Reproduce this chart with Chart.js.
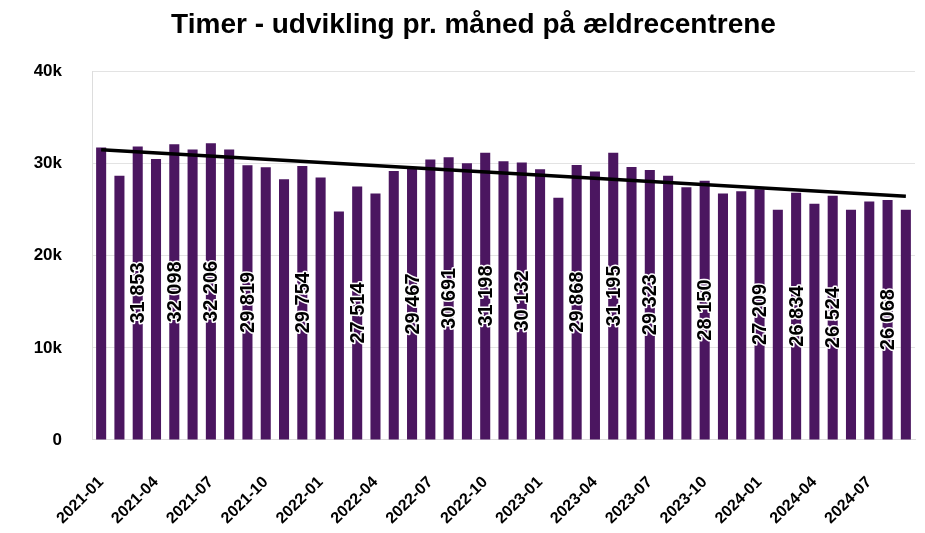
<!DOCTYPE html>
<html>
<head>
<meta charset="utf-8">
<script src="https://cdn.jsdelivr.net/npm/chart.js@4/dist/chart.umd.min.js"></script>
<style>
  html, body { margin: 0; padding: 0; background: #fff; }
  #wrap { width: 925px; height: 533px; }
</style>
</head>
<body>
<div id="wrap"><canvas id="chart-timer"></canvas></div>
<script>
var months = [
  '2021-01','2021-02','2021-03','2021-04','2021-05','2021-06','2021-07','2021-08','2021-09','2021-10','2021-11','2021-12',
  '2022-01','2022-02','2022-03','2022-04','2022-05','2022-06','2022-07','2022-08','2022-09','2022-10','2022-11','2022-12',
  '2023-01','2023-02','2023-03','2023-04','2023-05','2023-06','2023-07','2023-08','2023-09','2023-10','2023-11','2023-12',
  '2024-01','2024-02','2024-03','2024-04','2024-05','2024-06','2024-07','2024-08','2024-09'
];

// hours per month (labelled ones are exact, the rest)
var timer = [
  31750, 28700, 31853, 30500, 32098, 31550, 32206, 31550, 29819, 29600, 28300, 29754,
  28500, 24800, 27514, 26750, 29200, 29467, 30450, 30691, 30050, 31198, 30250, 30132,
  29400, 26300, 29868, 29150, 31195, 29650, 29323, 28700, 27450, 28150, 26750, 27000,
  27209, 25000, 26834, 25650, 26524, 25000, 25900, 26068, 25000
];

// which bars carry a value label
var labelledBars = [2, 4, 6, 8, 11, 14, 17, 19, 21, 23, 26, 28, 30, 33, 36, 38, 40, 43];

// trend line, start and end
var trendStart = 31500;
var trendEnd = 26450;

var trend = months.map(function(m, i) {
  if (i === 0) return trendStart;
  if (i === months.length - 1) return trendEnd;
  return null;
});

var FONT = '"Liberation Sans", Arial, sans-serif';

function fmt(v) {
  return String(v).replace(/\B(?=(\d{3})+(?!\d))/g, ' ');
}

// draws the rotated value labels in the middle of the bars
var barLabels = {
  id: 'barLabels',
  afterDatasetsDraw: function(chart) {
    var ctx = chart.ctx;
    var meta = chart.getDatasetMeta(1);
    ctx.save();
    ctx.font = 'bold 20px ' + FONT;
    ctx.textAlign = 'center';
    ctx.textBaseline = 'middle';
    ctx.lineJoin = 'round';
    labelledBars.forEach(function(i) {
      var bar = meta.data[i];
      var cy = (bar.y + bar.base) / 2;
      ctx.save();
      ctx.translate(bar.x, cy);
      ctx.rotate(-Math.PI / 2);
      ctx.lineWidth = 3;
      ctx.strokeStyle = '#ffffff';
      ctx.strokeText(fmt(timer[i]), 0, 1);
      ctx.fillStyle = '#000000';
      ctx.fillText(fmt(timer[i]), 0, 1);
      ctx.restore();
    });
    ctx.restore();
  }
};

var chart;

function initChart() {
  var ctx = document.getElementById('chart-timer').getContext('2d');
  chart = new Chart(ctx, {
    type: 'bar',
    data: {
      labels: months,
      datasets: [{
        type: 'line',
        label: 'Trend',
        data: trend,
        borderColor: '#000000',
        borderWidth: 3.5,
        pointRadius: 0,
        spanGaps: true,
        order: 0
      },
      {
        label: 'Timer',
        data: timer,
        backgroundColor: '#4b1660',
        borderWidth: 0,
        categoryPercentage: 1,
        barPercentage: 0.55,
        order: 1
      }]
    },
    options: {
      responsive: true,
      maintainAspectRatio: false,
      animation: false,
      layout: { padding: { left: 32, right: 10, top: 6, bottom: 3 } },
      plugins: {
        legend: { display: false },
        tooltip: { enabled: false },
        title: {
          display: true,
          text: 'Timer - udvikling pr. måned på ældrecentrene',
          color: '#000000',
          font: { family: FONT, size: 28, weight: 'bold' },
          padding: { top: 2, bottom: 30 }
        }
      },
      scales: {
        x: {
          afterFit: function(scale) { scale.paddingLeft = 0; scale.paddingRight = 0; },
          grid: {
            display: true,
            drawOnChartArea: false,
            drawTicks: true,
            tickLength: 31,
            tickColor: 'rgba(0,0,0,0)'
          },
          border: { display: true, color: '#dddddd' },
          ticks: {
            autoSkip: false,
            minRotation: 45,
            maxRotation: 45,
            padding: 2,
            color: '#000000',
            font: { family: FONT, size: 16, weight: 'bold' },
            callback: function(val, i) { return i % 3 === 0 ? months[i] : ''; }
          }
        },
        y: {
          min: 0,
          max: 40000,
          afterFit: function(scale) { scale.width = 60; },
          grid: { color: '#e3e3e3', drawTicks: false },
          border: { display: true, color: '#dddddd' },
          ticks: {
            stepSize: 10000,
            padding: 30,
            color: '#000000',
            font: { family: FONT, size: 17, weight: 'bold' },
            callback: function(v) { return v === 0 ? '0' : (v / 1000) + 'k'; }
          }
        }
      }
    },
    plugins: [barLabels]
  });
}

window.addEventListener('load', initChart);
</script>
</body>
</html>
